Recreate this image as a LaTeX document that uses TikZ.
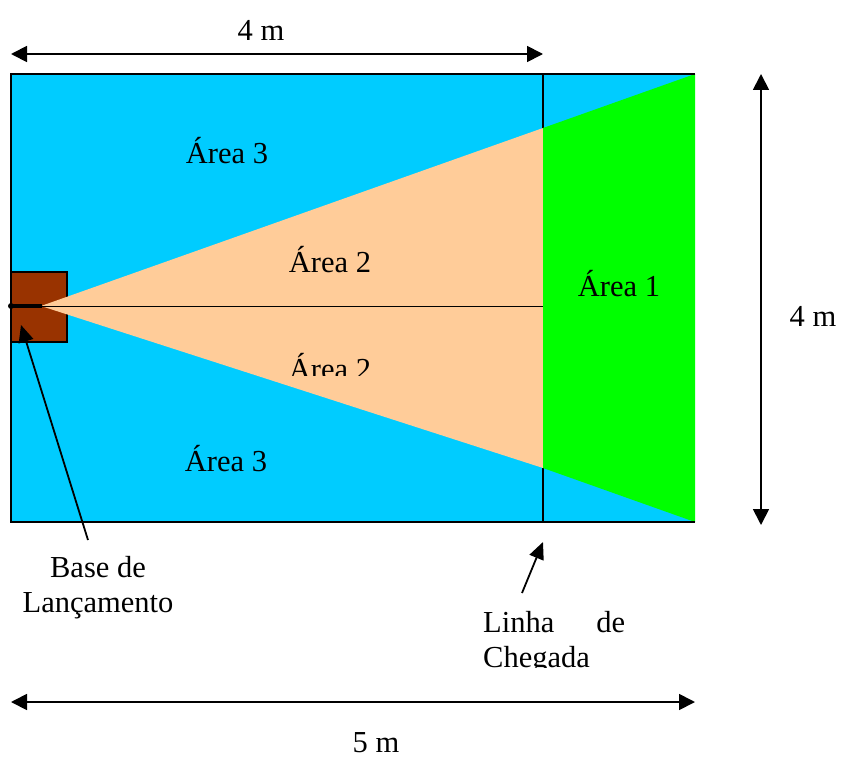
\documentclass[tikz,border=0pt]{standalone}
\usepackage{fontspec}
\setmainfont{Liberation Serif}
\usetikzlibrary{arrows.meta}
\definecolor{skyb}{HTML}{00CCFF}
\definecolor{peach}{HTML}{FFCC99}
\definecolor{grn}{HTML}{00FF00}
\definecolor{brn}{HTML}{993300}
\tikzset{
  lbl/.style={inner sep=0pt, font=\fontsize{30.5}{35}\selectfont},
  dimarrow/.style={line width=1.8pt, {Triangle[length=16pt,width=16pt]}-{Triangle[length=16pt,width=16pt]}},
  ptr/.style={line width=1.8pt, -{Triangle[length=17pt,width=15pt]}},
}
\begin{document}
\begin{tikzpicture}[x=1pt,y=-1pt]
\useasboundingbox (0,0) rectangle (843,757);
% field
\fill[skyb] (11,74) rectangle (695,522);
\draw[line width=1.5pt] (543,74) -- (543,522);
\draw[line width=1.5pt, fill=brn] (11,272) rectangle (67,342);
\fill[peach] (41,306) -- (543,128) -- (543,468) -- cycle;
\fill[grn] (543,128) -- (695,74) -- (695,522) -- (543,468) -- cycle;
\draw[line width=1pt] (11,306) -- (543,306);
\draw[line width=4pt] (11,306) -- (42,306);
\fill (11,306) circle (3pt);
\draw[line width=1.5pt] (695,74) -- (11,74) -- (11,522) -- (695,522);
% area labels
\node[lbl, anchor=base] (a3t) at (227,163) {Área 3};
\node[lbl, anchor=base] (a2t) at (330,272) {Área 2};
\node[lbl, anchor=base] (a1) at (619,296) {Área 1};
\begin{scope}
\clip (250,330) rectangle (420,375);
\node[lbl, anchor=base] (a2b) at (330,379) {Área 2};
\end{scope}
\node[lbl, anchor=base] (a3b) at (226,471) {Área 3};
% dimensions
\coordinate (tl) at (11,54);
\coordinate (tr) at (543,54);
\draw[dimarrow] (tl) -- (tr);
\node[lbl, anchor=base] (d4t) at (261,41) {4 m};
\coordinate (rt) at (761,74);
\coordinate (rb) at (761,525);
\draw[dimarrow] (rt) -- (rb);
\node[lbl, anchor=base] (d4r) at (813,326) {4 m};
\coordinate (bl) at (11,702);
\coordinate (br) at (695,702);
\draw[dimarrow] (bl) -- (br);
\node[lbl, anchor=base] (d5) at (376,752) {5 m};
% base label
\node[lbl, align=center, anchor=base] (base) at (98,612) {Base de\\Lançamento};
\coordinate (basetail) at (88,540);
\coordinate (basetip) at (21,325);
\draw[ptr] (basetail) -- (basetip);
% finish line label
\begin{scope}
\clip (470,590) rectangle (640,667);
\node[lbl, text width=142pt, align=left, anchor=base west] (linha) at (483,632) {Linha\hfill de\\Chegada};
\end{scope}
\coordinate (lintail) at (522,593);
\coordinate (lintip) at (543,542);
\draw[ptr] (lintail) -- (lintip);
\end{tikzpicture}
\end{document}
